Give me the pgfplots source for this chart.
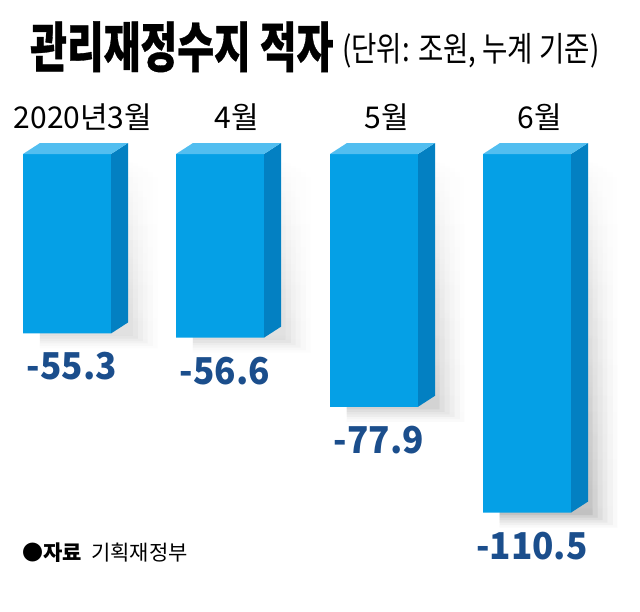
\documentclass[border=0pt]{standalone}
\usepackage{pgfplots}
\pgfplotsset{compat=1.18}
\usepackage{pgfplotstable}
\usetikzlibrary{fadings}
\usepackage{fontspec}
\setmainfont{Noto Sans CJK KR}
\newfontfamily\kr{Noto Sans CJK KR}
\newfontfamily\krval[FakeStretch=0.95]{Noto Sans CJK KR}
\newfontfamily\krtitle[FakeStretch=0.74, BoldFeatures={FakeBold=0.6}]{Noto Sans CJK KR}
\newfontfamily\krsub[FakeStretch=0.81]{Noto Sans CJK KR}
\definecolor{front}{HTML}{05A0E6}
\definecolor{topf}{HTML}{52BEF0}
\definecolor{side}{HTML}{0380C2}
\definecolor{navy}{HTML}{1B4E8C}
\tikzfading[name=shfade, top color=transparent!100, middle color=transparent!40, bottom color=transparent!0]

\pgfplotstableread{
x v label
67 -55.3 -55.3
220 -56.6 -56.6
374 -77.9 -77.9
527 -110.5 -110.5
}\bars

\begin{document}
\begin{tikzpicture}
\begin{axis}[scale only axis, width=640bp, height=611bp,
  xmin=0, xmax=640, ymin=-140.83, ymax=47.46, hide axis, clip=false]
\path (rel axis cs:0,0) rectangle (rel axis cs:1,1);
% soft shadows
\addplot[ybar, bar width=93, bar shift=19.5, fill=black!80, fill opacity=0.09, draw=none, path fading=shfade] table[x=x, y expr=\thisrow{v}-0.77] {\bars};
\addplot[ybar, bar width=98, bar shift=22, fill=black!80, fill opacity=0.075, draw=none, path fading=shfade] table[x=x, y expr=\thisrow{v}-1.54] {\bars};
\addplot[ybar, bar width=103, bar shift=24.5, fill=black!80, fill opacity=0.06, draw=none, path fading=shfade] table[x=x, y expr=\thisrow{v}-2.31] {\bars};
\addplot[ybar, bar width=108, bar shift=27, fill=black!80, fill opacity=0.05, draw=none, path fading=shfade] table[x=x, y expr=\thisrow{v}-3.08] {\bars};
\addplot[ybar, bar width=113, bar shift=29.5, fill=black!80, fill opacity=0.04, draw=none, path fading=shfade] table[x=x, y expr=\thisrow{v}-3.85] {\bars};
\addplot[ybar, bar width=118, bar shift=32, fill=black!80, fill opacity=0.03, draw=none, path fading=shfade] table[x=x, y expr=\thisrow{v}-4.62] {\bars};
% front faces
\addplot[ybar, bar width=88, bar shift=0, fill=front, draw=none] table[x=x, y=v] {\bars};
% side faces
\addplot[fill=side, draw=none] coordinates {(111,0) (128,3.39) (128,-51.91) (111,-55.3)};
\addplot[fill=side, draw=none] coordinates {(264,0) (281,3.39) (281,-53.21) (264,-56.6)};
\addplot[fill=side, draw=none] coordinates {(418,0) (435,3.39) (435,-74.51) (418,-77.9)};
\addplot[fill=side, draw=none] coordinates {(571,0) (588,3.39) (588,-107.11) (571,-110.5)};
% top faces
\addplot[fill=topf, draw=none] coordinates {(23,0) (111,0) (128,3.39) (40,3.39)};
\addplot[fill=topf, draw=none] coordinates {(176,0) (264,0) (281,3.39) (193,3.39)};
\addplot[fill=topf, draw=none] coordinates {(330,0) (418,0) (435,3.39) (347,3.39)};
\addplot[fill=topf, draw=none] coordinates {(483,0) (571,0) (588,3.39) (500,3.39)};
% value labels
\addplot[draw=none, nodes near coords, point meta=explicit symbolic,
  every node near coord/.style={anchor=center, yshift=-33bp, xshift=5bp, inner sep=0pt,
  text=navy, font=\krval\bfseries\fontsize{37bp}{37bp}\selectfont}]
  table[x=x, y=v, meta=label] {\bars};
% category labels
\node[anchor=base, inner sep=0] at (axis cs:83,8.01) {\kr\fontsize{30bp}{30bp}\selectfont 2020년3월};
\node[anchor=base, inner sep=0] at (axis cs:237,8.01) {\kr\fontsize{30bp}{30bp}\selectfont 4월};
\node[anchor=base, inner sep=0] at (axis cs:387,8.01) {\kr\fontsize{30bp}{30bp}\selectfont 5월};
\node[anchor=base, inner sep=0] at (axis cs:540,8.01) {\kr\fontsize{30bp}{30bp}\selectfont 6월};
% title
\node[anchor=base west, inner sep=0] at (axis cs:30,26.81) {\krtitle\bfseries\fontsize{54bp}{54bp}\selectfont 관리재정수지 적자};
\node[anchor=base west, inner sep=0] at (axis cs:342,28.66) {\krsub\fontsize{34bp}{34bp}\selectfont (단위: 조원, 누계 기준)};
% source
\node[anchor=base west, inner sep=0] at (axis cs:22,-125.4) {\kr\fontsize{21bp}{21bp}\selectfont {\bfseries ●자료}\ \ 기획재정부};
\end{axis}
\end{tikzpicture}
\end{document}
